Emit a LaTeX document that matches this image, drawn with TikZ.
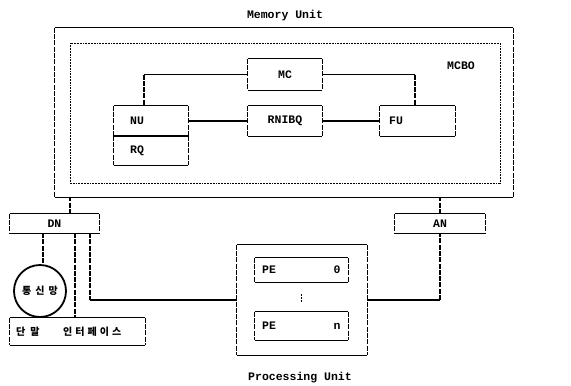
\documentclass[tikz,border=0pt]{standalone}
\usepackage{fontspec}
\setmonofont{Liberation Mono}
\newfontfamily\kr{Noto Sans CJK KR}
\begin{document}
\begin{tikzpicture}[x=1pt,y=-1pt,
  boxn/.style={rectangle,inner sep=0pt,draw=none},
  lab/.style={font=\ttfamily\bfseries\fontsize{11.5}{12}\selectfont,inner sep=0pt},
  krf/.style={font=\kr\bfseries\fontsize{10}{11}\selectfont,inner sep=0pt},
  sol/.style={line width=1.1pt},
  dsh/.style={line width=1.1pt,dash pattern=on 5pt off 1.3pt},
  dotb/.style={line width=1pt,dash pattern=on 1.8pt off 1pt}]
\useasboundingbox (0,0) rectangle (571,386);
\newcommand\dmbox[1]{%
  \draw[sol] (#1.north west) -- (#1.north east) (#1.south west) -- (#1.south east);
  \draw[dsh] (#1.north west) -- (#1.south west) (#1.north east) -- (#1.south east);}
% boxes
\node[boxn,minimum width=458pt,minimum height=169pt] (MU) at (284,112.5) {};
\node[boxn,draw,dotb,minimum width=430pt,minimum height=140pt] (MCBO) at (285,113) {};
\node[boxn,minimum width=74pt,minimum height=31pt] (MC) at (285,74.5) {};
\node[boxn,minimum width=74pt,minimum height=30pt] (NU) at (151,121) {};
\node[boxn,minimum width=74pt,minimum height=29pt] (RQ) at (151,150.5) {};
\node[boxn,minimum width=74pt,minimum height=30pt] (RNIBQ) at (285,121) {};
\node[boxn,minimum width=75pt,minimum height=30pt] (FU) at (417.5,121) {};
\node[boxn,minimum width=89pt,minimum height=19pt] (DN) at (54.5,223.5) {};
\node[boxn,minimum width=90pt,minimum height=19pt] (AN) at (440,223.5) {};
\node[boxn,minimum width=130pt,minimum height=110pt] (PU) at (302,300) {};
\node[boxn,minimum width=93pt,minimum height=24pt] (PE0) at (301.5,270) {};
\node[boxn,minimum width=93pt,minimum height=28pt] (PEn) at (301.5,326) {};
\node[boxn,minimum width=135pt,minimum height=27pt] (TI) at (77.5,331.5) {};
\node[circle,draw,line width=1.8pt,minimum size=52pt,inner sep=0pt,krf] (NET) at (40,291) {통\hspace{4pt}신\hspace{4pt}망};
\foreach \b in {MU,MC,NU,RQ,RNIBQ,FU,DN,AN,PU,PE0,PEn,TI} {\dmbox{\b}}
% labels
\node[lab] (tMU) at (285,16) {Memory Unit};
\node[lab] (tMCBO) at (461,66) {MCBO};
\node[lab] (tPU) at (300,378) {Processing Unit};
\node[lab] (tMC) at (MC) {MC};
\node[lab,anchor=west] (tNU) at (130,121) {NU};
\node[lab,anchor=west] (tRQ) at (130,150.5) {RQ};
\node[lab] (tRN) at (RNIBQ) {RNIBQ};
\node[lab,anchor=west] (tFU) at (389,121) {FU};
\node[lab] (tDN) at (DN) {DN};
\node[lab] (tAN) at (AN) {AN};
\node[lab,anchor=west] (tPE0a) at (262,270) {PE};
\node[lab] (tPE0b) at (337,270) {0};
\node[lab,anchor=west] (tPEna) at (262,326) {PE};
\node[lab] (tPEnb) at (337,326) {n};
\node[krf,anchor=west] (tTI1) at (16,331.5) {단\hspace{5pt}말};
\node[krf,anchor=west] (tTI2) at (63,331.5) {인\hspace{3pt}터\hspace{3pt}페\hspace{3pt}이\hspace{3pt}스};
% connectors
\draw[sol] (MC.west) -- (MC.west -| 144,0) coordinate (mcl);
\draw[dsh] (mcl) -- (mcl |- NU.north);
\draw[sol] (MC.east) -- (MC.east -| 415,0) coordinate (mcr);
\draw[dsh] (mcr) -- (mcr |- FU.north);
\draw[sol] (NU.east) -- (RNIBQ.west);
\draw[sol] (RNIBQ.east) -- (FU.west);
\coordinate (dnA) at (70,214);
\draw[dsh] (dnA) -- (dnA |- MU.south);
\coordinate (anA) at (440,214);
\draw[dsh] (anA) -- (anA |- MU.south);
\coordinate (dnB) at (43,233);
\draw[dsh] (dnB) -- (dnB |- NET.north);
\coordinate (dnC) at (75,233);
\draw[dsh] (dnC) -- (dnC |- TI.north);
\coordinate (dnD) at (90,233);
\draw[dsh] (dnD) -- (dnD |- PU.west);
\draw[sol] (dnD |- PU.west) -- (PU.west);
\draw[sol] (PU.east) -- (PU.east -| AN.south);
\draw[dsh] (PU.east -| AN.south) -- (AN.south);
\draw[line width=0.9pt,dash pattern=on 2pt off 1pt] (PE0.south) ++(0,12) coordinate (vd1) -- ++(0,8) coordinate (vd2);
\end{tikzpicture}
\end{document}
